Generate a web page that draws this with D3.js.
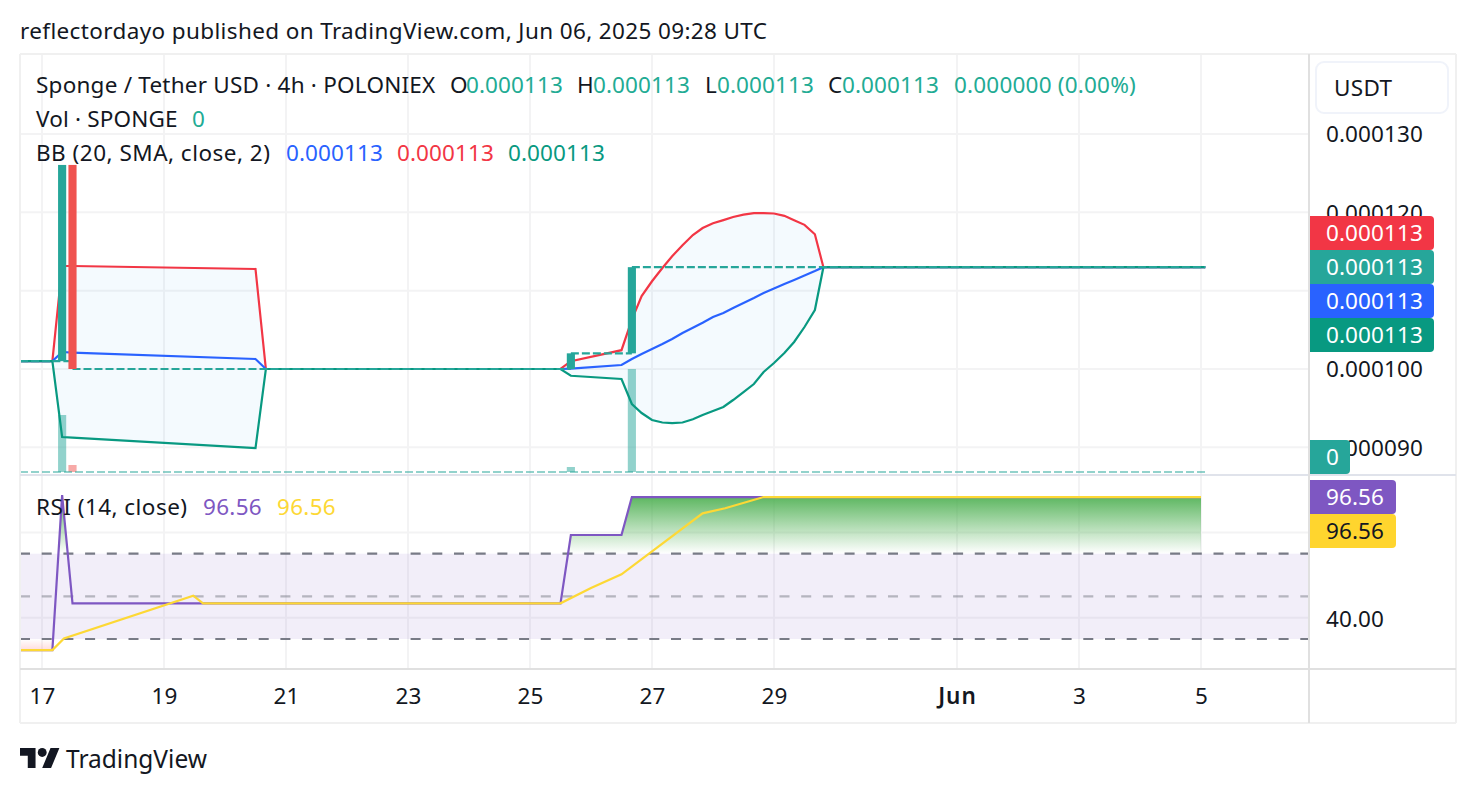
<!DOCTYPE html>
<html>
<head>
<meta charset="utf-8">
<script src="https://d3js.org/d3.v7.min.js"></script>
<style>
body { margin: 0; background: #fff; }
text { font-family: "Noto Sans", sans-serif; font-size: 22.5px; fill: #131722; letter-spacing: 0.1px; }
</style>
</head>
<body>
<div id="chart"></div>
<script>
// days are counted from May 1, so Jun 1 = 32
var timeTicks = [17, 19, 21, 23, 25, 27, 29, 32, 34, 36]
var timeLabels = ['17', '19', '21', '23', '25', '27', '29', 'Jun', '3', '5']
var priceTicks = [130, 120, 100, 90]
var priceGrid = [130, 120, 110, 100, 90]

// prices are in millionths of USDT
var candleDays = [17.33, 17.5, 25.67, 26.67]
var candleOpen = [101.0, 126.05, 100.0, 102.0]
var candleClose = [126.05, 100.0, 102.0, 113.0]
var candleVolume = [57, 7, 5, 103]

var closeDays = [16.64, 17.17, 17.5, 25.67, 26.67, 36.07]
var closeValues = [101.0, 101.0, 100.0, 102.0, 113.0, 113.0]

var bbDays = [16.64, 17.17, 17.33, 17.5, 20.5, 20.67, 25.5, 25.67, 26.5, 26.67, 26.83, 27, 27.17, 27.33, 27.5, 27.67, 27.83, 28, 28.17, 28.33, 28.5, 28.67, 28.83, 29, 29.17, 29.33, 29.5, 29.67, 29.81, 36.07]
var bbUpper = [101, 101, 113.15, 113.15, 112.77, 100, 100, 101, 102.4, 106.3, 109.3, 111.2, 112.9, 114.4, 115.8, 117.1, 118, 118.6, 119, 119.4, 119.7, 119.9, 119.9, 119.85, 119.55, 119, 118.4, 117.2, 113, 113]
var bbBasis = [101, 101, 102.17, 102.1, 101.28, 100, 100, 100.06, 100.51, 101.28, 101.92, 102.55, 103.19, 103.83, 104.6, 105.27, 105.91, 106.64, 107.15, 107.79, 108.43, 109.07, 109.71, 110.27, 110.86, 111.37, 111.94, 112.5, 113, 113]
var bbLower = [101, 101, 91.32, 91.24, 89.91, 100, 100, 99.14, 98.72, 95.53, 94.38, 93.49, 93.17, 93.1, 93.17, 93.58, 94.13, 94.64, 95.15, 96.04, 97.06, 98.08, 99.62, 100.77, 102.04, 103.45, 105.36, 107.53, 113, 113]

var rsiDays = [16.64, 17.17, 17.33, 17.5, 25.5, 25.67, 26.5, 26.67, 36]
var rsiValues = [24.8, 24.8, 97.5, 46.74, 46.74, 78.77, 78.77, 96.56, 96.56]
var rsiMaDays = [16.64, 17.17, 17.36, 19.48, 19.64, 25.5, 26, 26.5, 27.83, 28.2, 28.83, 36]
var rsiMaValues = [24.8, 24.8, 30.3, 50.3, 46.74, 46.74, 53.9, 60.34, 88.94, 91.3, 96.56, 96.56]
var rsiGrid = [80, 40]

var lastTags = [
    {label: '0.000113', color: '#f23645', text: '#fff'},
    {label: '0.000113', color: '#26a69a', text: '#fff'},
    {label: '0.000113', color: '#2962ff', text: '#fff'},
    {label: '0.000113', color: '#089981', text: '#fff'}
]

var red = '#f23645', blue = '#2962ff', green = '#089981', teal = '#26a69a'
var candleUp = '#26a69a', candleDown = '#ef5350'
var purple = '#7e57c2', yellow = '#fdd835', gridColor = '#f3f3f4'

var svg = d3.select('#chart').append('svg').attr('width', 1476).attr('height', 794).style('display', 'block')

var left = 20, axisX = 1309, outerR = 1456
var x = d3.scaleLinear().domain([17, 36]).range([42, 1201])
var y = d3.scaleLinear().domain([100, 130]).range([369, 134])
var yVol = d3.scaleLinear().domain([0, 103]).range([472, 369])
var yRsi = d3.scaleLinear().domain([30, 70]).range([639, 553.7])

// grid
svg.selectAll('line.vgrid').data(timeTicks).enter().append('line')
    .attr('x1', function(d){return x(d)}).attr('x2', function(d){return x(d)})
    .attr('y1', 55).attr('y2', 668)
    .attr('stroke', gridColor).attr('stroke-width', 2)
svg.selectAll('line.hgrid').data(priceGrid).enter().append('line')
    .attr('x1', left).attr('x2', axisX)
    .attr('y1', function(d){return y(d)}).attr('y2', function(d){return y(d)})
    .attr('stroke', gridColor).attr('stroke-width', 2)
svg.selectAll('line.rgrid').data(rsiGrid).enter().append('line')
    .attr('x1', left).attr('x2', axisX)
    .attr('y1', function(d){return yRsi(d)}).attr('y2', function(d){return yRsi(d)})
    .attr('stroke', gridColor).attr('stroke-width', 2)

// bollinger fill
var bbIdx = d3.range(bbDays.length)
svg.append('path').datum(bbIdx)
    .attr('d', d3.area()
        .x(function(i){return x(bbDays[i])})
        .y0(function(i){return y(bbLower[i])})
        .y1(function(i){return y(bbUpper[i])}))
    .attr('fill', '#2196f3').attr('fill-opacity', 0.05)

// volume
var bodyW = (x(1) - x(0)) / 6 * 0.8
svg.selectAll('rect.vol').data(candleDays).enter().append('rect')
    .attr('x', function(d){return x(d) - bodyW / 2})
    .attr('width', bodyW)
    .attr('y', function(d,i){return yVol(candleVolume[i])})
    .attr('height', function(d,i){return yVol(0) - yVol(candleVolume[i])})
    .attr('fill', function(d,i){return candleClose[i] >= candleOpen[i] ? candleUp : candleDown})
    .attr('opacity', 0.5)
svg.append('line')
    .attr('x1', left).attr('x2', x(36.07))
    .attr('y1', yVol(0)).attr('y2', yVol(0))
    .attr('stroke', teal).attr('stroke-opacity', 0.5).attr('stroke-width', 2.2)
    .attr('stroke-dasharray', '8 3')

// bollinger lines
function bbLine(values, color){
    svg.append('path').datum(bbIdx)
        .attr('d', d3.line()
            .x(function(i){return x(bbDays[i])})
            .y(function(i){return y(values[i])}))
        .attr('fill', 'none').attr('stroke', color).attr('stroke-width', 2.2)
}
bbLine(bbUpper, red)
bbLine(bbBasis, blue)
bbLine(bbLower, green)

// dashed close between the traded bars, on top of the bands
for(var k=0; k<closeDays.length-1; k++){
    svg.append('line')
        .attr('x1', x(closeDays[k])).attr('x2', x(closeDays[k+1]))
        .attr('y1', y(closeValues[k])).attr('y2', y(closeValues[k]))
        .attr('stroke', teal).attr('stroke-width', 2.2).attr('stroke-dasharray', '8 3')
}

// candles
svg.selectAll('rect.candle').data(candleDays).enter().append('rect')
    .attr('x', function(d){return x(d) - bodyW / 2})
    .attr('width', bodyW)
    .attr('y', function(d,i){return y(Math.max(candleOpen[i], candleClose[i]))})
    .attr('height', function(d,i){return Math.abs(y(candleOpen[i]) - y(candleClose[i]))})
    .attr('fill', function(d,i){return candleClose[i] >= candleOpen[i] ? candleUp : candleDown})

// rsi band and levels
svg.append('rect')
    .attr('x', left).attr('width', axisX - left)
    .attr('y', yRsi(70)).attr('height', yRsi(30) - yRsi(70))
    .attr('fill', purple).attr('fill-opacity', 0.1)
var rsiLevels = [70, 50, 30]
svg.selectAll('line.level').data(rsiLevels).enter().append('line')
    .attr('x1', left).attr('x2', axisX)
    .attr('y1', function(d){return yRsi(d)}).attr('y2', function(d){return yRsi(d)})
    .attr('stroke', '#787b86').attr('stroke-width', 2.2)
    .attr('stroke-opacity', function(d){return d == 50 ? 0.5 : 1})
    .attr('stroke-dasharray', '10 11.7')

// rsi over/under gradients
var defs = svg.append('defs')
var gradUp = defs.append('linearGradient').attr('id', 'rsiUp')
    .attr('gradientUnits', 'userSpaceOnUse')
    .attr('x1', 0).attr('x2', 0).attr('y1', yRsi(96.56)).attr('y2', yRsi(70))
gradUp.append('stop').attr('offset', 0).attr('stop-color', '#4caf50').attr('stop-opacity', 0.9)
gradUp.append('stop').attr('offset', 1).attr('stop-color', '#4caf50').attr('stop-opacity', 0)
var gradDown = defs.append('linearGradient').attr('id', 'rsiDown')
    .attr('gradientUnits', 'userSpaceOnUse')
    .attr('x1', 0).attr('x2', 0).attr('y1', yRsi(30)).attr('y2', yRsi(24.8))
gradDown.append('stop').attr('offset', 0).attr('stop-color', '#ff5252').attr('stop-opacity', 0)
gradDown.append('stop').attr('offset', 1).attr('stop-color', '#ff5252').attr('stop-opacity', 0.2)
defs.append('clipPath').attr('id', 'above70').append('rect')
    .attr('x', left).attr('width', axisX - left).attr('y', 476).attr('height', yRsi(70) - 476)
defs.append('clipPath').attr('id', 'below30').append('rect')
    .attr('x', left).attr('width', axisX - left).attr('y', yRsi(30)).attr('height', 668 - yRsi(30))

var rsiIdx = d3.range(rsiDays.length)
svg.append('path').datum(rsiIdx)
    .attr('d', d3.area()
        .x(function(i){return x(rsiDays[i])})
        .y0(yRsi(70))
        .y1(function(i){return yRsi(rsiValues[i])}))
    .attr('fill', 'url(#rsiUp)').attr('clip-path', 'url(#above70)')
svg.append('path').datum(rsiIdx)
    .attr('d', d3.area()
        .x(function(i){return x(rsiDays[i])})
        .y0(yRsi(30))
        .y1(function(i){return yRsi(rsiValues[i])}))
    .attr('fill', 'url(#rsiDown)').attr('clip-path', 'url(#below30)')

svg.append('path').datum(rsiIdx)
    .attr('d', d3.line()
        .x(function(i){return x(rsiDays[i])})
        .y(function(i){return yRsi(rsiValues[i])}))
    .attr('fill', 'none').attr('stroke', purple).attr('stroke-width', 2.2)
svg.append('path').datum(d3.range(rsiMaDays.length))
    .attr('d', d3.line()
        .x(function(i){return x(rsiMaDays[i])})
        .y(function(i){return yRsi(rsiMaValues[i])}))
    .attr('fill', 'none').attr('stroke', yellow).attr('stroke-width', 2.2)

// frame
function rule(x1, y1, x2, y2, color){
    svg.append('line').attr('x1', x1).attr('y1', y1).attr('x2', x2).attr('y2', y2)
        .attr('stroke', color).attr('stroke-width', 2)
}
rule(20, 54, outerR, 54, '#f0f0f0')
rule(20, 723, outerR, 723, '#f0f0f0')
rule(20, 54, 20, 723, '#f0f0f0')
rule(outerR, 54, outerR, 723, '#f0f0f0')
rule(20, 475, outerR, 475, '#e0e3eb')
rule(20, 669, outerR, 669, '#e0e0e0')
rule(axisX, 54, axisX, 723, '#e0e0e0')

// axes
var priceAxis = d3.axisRight(y).tickValues(priceTicks).tickSize(0).tickPadding(0)
    .tickFormat(function(d){return '0.000' + d3.format('03')(d)})
svg.append('g').attr('transform', 'translate(1326,0.5)').call(priceAxis)
    .call(function(g){g.select('.domain').remove()})

var rsiAxis = d3.axisRight(yRsi).tickValues([40]).tickSize(0).tickPadding(0)
    .tickFormat(d3.format('.2f'))
svg.append('g').attr('transform', 'translate(1326,2)').call(rsiAxis)
    .call(function(g){g.select('.domain').remove()})

var timeAxis = d3.axisBottom(x).tickValues(timeTicks).tickSize(0).tickPadding(0)
    .tickFormat(function(d,i){return timeLabels[i]})
svg.append('g').attr('transform', 'translate(0,688)').call(timeAxis)
    .call(function(g){g.select('.domain').remove()})
    .selectAll('text')
    .style('font-weight', function(d){return d == 32 ? 600 : null})
    .style('letter-spacing', function(d){return d == 32 ? '1px' : null})
svg.selectAll('g.tick text').attr('fill', null)
// d3 sets font on the axis group, drop it so the page font applies
svg.selectAll('g').attr('font-size', null).attr('font-family', null)

// tags on the price axis
function tag(label, y0, w, bg, fg){
    svg.append('path')
        .attr('d', 'M1310,' + y0 + 'h' + (w - 4) + 'a4,4 0 0 1 4,4v26a4,4 0 0 1 -4,4h' + (4 - w) + 'z')
        .attr('fill', bg)
    svg.append('text').attr('x', 1326).attr('y', y0 + 25).text(label).style('fill', fg)
}
lastTags.forEach(function(t,i){
    tag(t.label, 216 + i * 34, 124, t.color, t.text)
})
tag('0', 440, 40, teal, '#fff')
tag('96.56', 480, 86, purple, '#fff')
tag('96.56', 514, 86, '#ffd52e', '#131722')

// usdt button
svg.append('rect').attr('x', 1316).attr('y', 62).attr('width', 132).attr('height', 51).attr('rx', 8)
    .attr('fill', '#fff').attr('stroke', '#f0f3fa').attr('stroke-width', 2)
svg.append('text').attr('x', 1334).attr('y', 96).text('USDT').style('letter-spacing', '0.3px')

// legend
function label(txt, px, py, color, spacing){
    svg.append('text').attr('x', px).attr('y', py).text(txt)
        .style('fill', color || '#131722')
        .style('letter-spacing', (spacing == null ? 0.1 : spacing) + 'px')
}
var tealText = '#22ab94'
label('reflectordayo published on TradingView.com, Jun 06, 2025 09:28 UTC', 20, 39, null, 0.37)
label('Sponge / Tether USD · 4h · POLONIEX', 36, 93, null, 0.22)
label('O', 450, 93); label('0.000113', 466, 93, tealText)
label('H', 577, 93); label('0.000113', 593, 93, tealText)
label('L', 705, 93); label('0.000113', 717, 93, tealText)
label('C', 828, 93); label('0.000113', 842, 93, tealText)
label('0.000000 (0.00%)', 954, 93, tealText, 0.2)
label('Vol · SPONGE', 36, 127, null, 0.17)
label('0', 192, 127, tealText)
label('BB (20, SMA, close, 2)', 36, 161, null, 0.49)
label('0.000113', 286, 161, blue)
label('0.000113', 397, 161, red)
label('0.000113', 508, 161, green)
label('RSI (14, close)', 36, 515, null, 0.46)
label('96.56', 203, 515, purple, 0.3)
label('96.56', 277, 515, yellow, 0.3)

// logo
var logo = svg.append('g').attr('transform', 'translate(20,743.6) scale(1.11)').attr('fill', '#131722')
logo.append('path').attr('d', 'M14 22H7V11H0V4h14v18zM28 22h-8l7.5-18h8L28 22z')
logo.append('circle').attr('cx', 20).attr('cy', 8).attr('r', 4)
svg.append('text').attr('x', 66).attr('y', 768).text('TradingView').style('font-size', '24.5px').style('letter-spacing', '0')
</script>
</body>
</html>
